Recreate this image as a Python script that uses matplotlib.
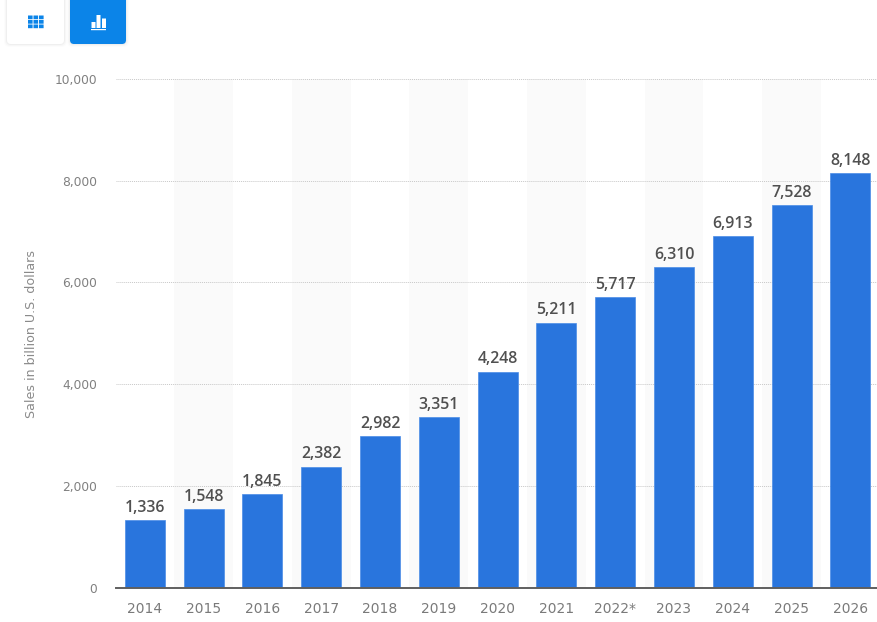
import matplotlib
matplotlib.use("Agg")
import matplotlib.pyplot as plt
from matplotlib.patches import FancyBboxPatch, Rectangle
from matplotlib.ticker import FuncFormatter

# --- Dati ---
years = ["2014", "2015", "2016", "2017", "2018", "2019", "2020",
         "2021", "2022*", "2023", "2024", "2025", "2026"]
sales = [1336, 1548, 1845, 2382, 2982, 3351, 4248, 5211, 5717, 6310, 6913, 7528, 8148]
yticks = [0, 2000, 4000, 6000, 8000, 10000]

W, H = 878, 622
fig = plt.figure(figsize=(W / 100, H / 100), dpi=100)
fig.patch.set_facecolor("white")

# axes position in pixels
left, right, top, bottom = 116, 878, 79, 587.7
ax = fig.add_axes([left / W, 1 - bottom / H, (right - left) / W, (bottom - top) / H])
x = list(range(len(years)))

# --- Bande alternate ---
for i in x:
    if i % 2 == 1:
        ax.axvspan(i - 0.5, i + 0.5, color="#fafafa", lw=0, zorder=0)

ax.bar(x, sales, width=0.68, color="#2975dd", edgecolor="#4a8ce6", linewidth=0.5, zorder=3)

for i, v in zip(x, sales):
    ax.annotate(f"{v:,}", (i, v), xytext=(0, 3), textcoords="offset points",
                ha="center", va="bottom", fontsize=11.4, fontweight="semibold",
                family="Open Sans", color="#505050", zorder=4)

ax.set_xlim(-0.49, 12.47)
ax.set_ylim(0, 10000)
ax.set_xticks(x)
ax.set_xticklabels(years)
ax.set_yticks(yticks)
ax.yaxis.set_major_formatter(FuncFormatter(lambda v, p: f"{int(v):,}"))
ax.tick_params(axis="x", length=0, labelsize=10, labelcolor="#7a7a7a", pad=10)
ax.tick_params(axis="y", length=0, labelsize=8.8, labelcolor="#808080", pad=13.5)
ax.grid(axis="y", color="#c8c8c8", linestyle=(0, (1, 1)), linewidth=0.7, zorder=1)
ax.set_axisbelow(True)
for s in ["top", "right", "left"]:
    ax.spines[s].set_visible(False)
ax.spines["bottom"].set_color("#5f5f5f")
ax.spines["bottom"].set_linewidth(1.4)
ax.spines["bottom"].set_zorder(5)
ax.patch.set_alpha(0)

fig.text(32 / W, 1 - 334 / H, "Sales in billion U.S. dollars", rotation=90,
         ha="center", va="center", fontsize=9.1, color="#8a8a8a")

# --- Pulsanti in alto, in pixel ---
ov = fig.add_axes([0, 0, 1, 1], zorder=10)
ov.set_xlim(0, W)
ov.set_ylim(H, 0)
ov.axis("off")

for off, a in [(3, 0.012), (2, 0.02), (1, 0.03)]:
    ov.add_patch(FancyBboxPatch((7 - off, -6), 57 + 2 * off, 50 + off,
                                boxstyle="round,pad=0,rounding_size=5",
                                fc="black", ec="none", alpha=a))
ov.add_patch(FancyBboxPatch((7, -6), 57, 50, boxstyle="round,pad=0,rounding_size=4",
                            fc="white", ec="none"))
for off, a in [(3, 0.012), (2, 0.02), (1, 0.03)]:
    ov.add_patch(FancyBboxPatch((70 - off, -6), 56 + 2 * off, 50 + off,
                                boxstyle="round,pad=0,rounding_size=5",
                                fc="black", ec="none", alpha=a))
ov.add_patch(FancyBboxPatch((70, -6), 56, 50, boxstyle="round,pad=0,rounding_size=4",
                            fc="#0b84e8", ec="none"))

# icona griglia
for cx in [28, 33.5, 39]:
    for cy in [15.5, 20, 24.5]:
        ov.add_patch(Rectangle((cx, cy), 4.6, 3.7, fc="#0b84e8", ec="none", snap=False))

# icona barre
for bx, by, bh in [(91.5, 22, 6), (96.5, 15, 13), (102, 18.5, 9.5)]:
    ov.add_patch(Rectangle((bx, by), 4, bh, fc="white", ec="none", snap=False))
ov.add_patch(Rectangle((91, 29), 15, 1.2, fc="white", ec="none", snap=False))

fig.savefig("out.png", dpi=100)
